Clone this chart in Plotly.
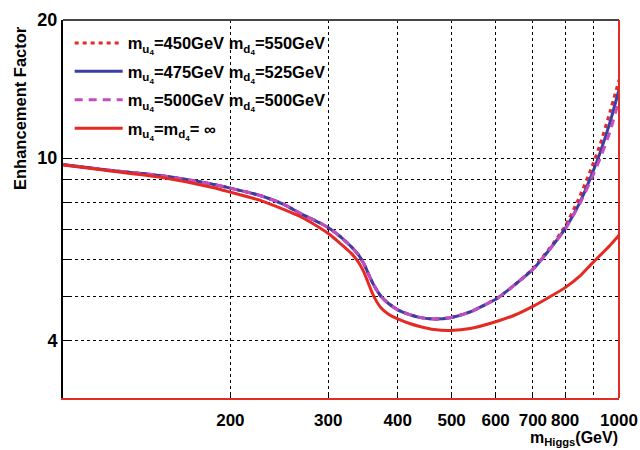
import plotly.graph_objects as go

mass = [100, 120, 150, 185, 200, 227, 250, 268, 290, 303, 315, 330, 340, 348, 353, 358,
        363, 373, 385, 400, 420, 440, 465, 498, 540, 604, 650, 700, 750, 800, 850, 890,
        925, 963, 1000]

ef_450_550 = [9.68, 9.42, 9.16, 8.78, 8.60, 8.28, 7.92, 7.56, 7.22, 7.00, 6.75, 6.41, 6.15,
              5.87, 5.65, 5.44, 5.26, 5.00, 4.82, 4.67, 4.56, 4.49, 4.46, 4.49, 4.62, 4.95,
              5.30, 5.74, 6.36, 7.10, 8.25, 9.45, 10.72, 12.6, 14.8]

ef_475_525 = [9.68, 9.42, 9.16, 8.78, 8.60, 8.28, 7.92, 7.56, 7.22, 7.00, 6.75, 6.41, 6.15,
              5.87, 5.65, 5.44, 5.26, 5.00, 4.82, 4.67, 4.56, 4.49, 4.46, 4.49, 4.62, 4.95,
              5.30, 5.72, 6.32, 7.02, 8.00, 9.10, 10.29, 11.95, 14.1]

ef_500_500 = [9.68, 9.42, 9.16, 8.78, 8.60, 8.28, 7.92, 7.56, 7.22, 7.00, 6.75, 6.41, 6.15,
              5.87, 5.65, 5.44, 5.26, 5.00, 4.82, 4.67, 4.56, 4.49, 4.46, 4.49, 4.62, 4.95,
              5.30, 5.72, 6.32, 7.00, 7.95, 8.95, 10.0, 11.4, 13.4]

ef_inf = [9.66, 9.40, 9.08, 8.64, 8.43, 8.08, 7.72, 7.44, 7.04, 6.79, 6.52, 6.20, 5.93,
          5.63, 5.39, 5.16, 4.97, 4.72, 4.57, 4.46, 4.36, 4.29, 4.23, 4.21, 4.25, 4.41,
          4.55, 4.75, 4.98, 5.22, 5.53, 5.86, 6.14, 6.45, 6.79]

names = ["m<sub>u<sub>4</sub></sub>=450GeV m<sub>d<sub>4</sub></sub>=550GeV",
         "m<sub>u<sub>4</sub></sub>=475GeV m<sub>d<sub>4</sub></sub>=525GeV",
         "m<sub>u<sub>4</sub></sub>=500GeV m<sub>d<sub>4</sub></sub>=500GeV",
         "m<sub>u<sub>4</sub></sub>=m<sub>d<sub>4</sub></sub>= \u221e"]

x_tickvals = [200, 300, 400, 500, 600, 700, 800, 1000]
x_minorvals = [900]
y_tickvals = [4, 10, 20]
y_minorvals = [5, 6, 7, 8, 9]

RED = "#e42a22"
BLUE = "#3b3fa5"
MAG = "#c24cc0"
FONT = "Liberation Sans"

fig = go.Figure()
styles = [(RED, "4px,4px"), (BLUE, "solid"), (MAG, "8px,6px"), (RED, "solid")]
for i, (vals, (col, dash), name) in enumerate(zip([ef_450_550, ef_475_525, ef_500_500, ef_inf],
                                                  styles, names)):
    fig.add_trace(go.Scatter(x=mass, y=vals, mode="lines", name=name, legendgroup=f"g{i}",
                             line=dict(color=col, width=3, dash=dash, shape="spline", smoothing=0.5)))

fig.update_layout(
    width=640, height=450,
    margin=dict(l=63, r=21, t=20, b=52, autoexpand=False),
    paper_bgcolor="white", plot_bgcolor="white",
    font=dict(family=FONT, size=16, color="black"),
    showlegend=True,
    legend=dict(x=0.012, y=0.985, xanchor="left", yanchor="top",
                bgcolor="rgba(255,255,255,0)", borderwidth=0,
                font=dict(family=FONT, size=16.5, color="black", weight="bold"),
                tracegroupgap=4, itemwidth=48),
    xaxis=dict(type="log", range=[2.0, 3.0], tickmode="array", tickvals=x_tickvals,
               ticktext=[str(v) for v in x_tickvals], automargin=False,
               showgrid=True, gridcolor="black", griddash="dot", gridwidth=1,
               minor=dict(tickmode="array", tickvals=x_minorvals, showgrid=True,
                          gridcolor="black", griddash="dot", gridwidth=1, ticks=""),
               showline=True, linecolor=RED, linewidth=2,
               ticks="inside", ticklen=6, tickcolor="black", ticklabelstandoff=6,
               tickfont=dict(family=FONT, size=17, weight="bold"), zeroline=False),
    yaxis=dict(type="log", range=[0.4771, 1.30103], tickmode="array", tickvals=y_tickvals,
               ticktext=[str(v) for v in y_tickvals], automargin=False,
               showgrid=True, gridcolor="black", griddash="dot", gridwidth=1,
               minor=dict(tickmode="array", tickvals=y_minorvals, showgrid=True,
                          gridcolor="black", griddash="dot", gridwidth=1,
                          ticks="inside", ticklen=8, tickcolor="black"),
               showline=True, linecolor="black", linewidth=2,
               ticks="inside", ticklen=8, tickcolor="black",
               tickfont=dict(family=FONT, size=18, weight="bold"), zeroline=False),
    shapes=[
        dict(type="line", xref="paper", yref="paper", x0=0, x1=1, y0=1, y1=1,
             line=dict(color="#444444", width=2)),
        dict(type="line", xref="paper", yref="paper", x0=1, x1=1, y0=0, y1=1,
             line=dict(color=RED, width=2)),
    ],
    annotations=[
        dict(text="<b>Enhancement Factor</b>", textangle=-90, xref="paper", yref="paper",
             x=-0.077, y=0.99, xanchor="center", yanchor="top", showarrow=False,
             font=dict(family=FONT, size=16.5)),
        dict(text="<b>m<sub>Higgs</sub>(GeV)</b>", xref="paper", yref="paper",
             x=1.0, y=-0.078, xanchor="right", yanchor="top", xshift=1, showarrow=False,
             font=dict(family=FONT, size=16)),
    ],
)

fig.write_html("out.html")
